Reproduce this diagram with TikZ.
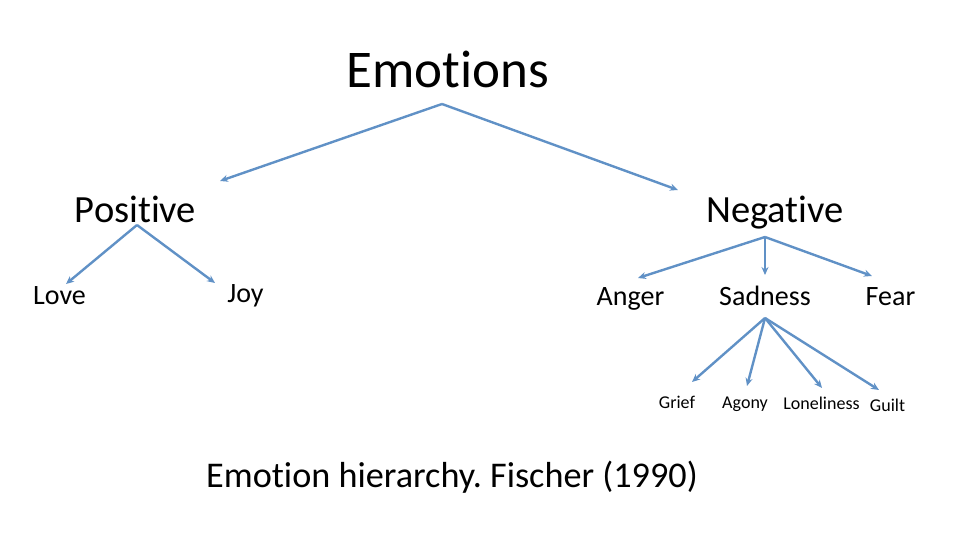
\documentclass[tikz,border=0pt]{standalone}
\usepackage{fontspec}
\setmainfont{Carlito}[Ligatures={NoCommon}]
\usetikzlibrary{arrows.meta}
\definecolor{linkblue}{RGB}{96,145,198}
\frenchspacing
\tikzset{
  lbl/.style={inner sep=0pt, anchor=base},
  link/.style={draw=linkblue, line width=2.4pt, -{Stealth[length=8pt,width=7pt]}}
}
\begin{document}
\begin{tikzpicture}[x=1pt,y=-1pt]
\useasboundingbox (0,0) rectangle (960,540);
\node[lbl, font=\fontsize{53}{60}\selectfont] (emo) at (448,88) {Emotions};
\node[lbl, font=\fontsize{38.5}{44}\selectfont] (pos) at (135.5,222) {Positive};
\node[lbl, font=\fontsize{38.5}{44}\selectfont] (neg) at (775,222) {Negative};
\node[lbl, font=\fontsize{28}{32}\selectfont] (love) at (59.5,304) {Love};
\node[lbl, font=\fontsize{28}{32}\selectfont] (joy) at (245.5,302) {Joy};
\node[lbl, font=\fontsize{28}{32}\selectfont] (anger) at (630.5,305) {Anger};
\node[lbl, font=\fontsize{28}{32}\selectfont] (sad) at (765,305) {Sadness};
\node[lbl, font=\fontsize{28}{32}\selectfont] (fear) at (890.5,305) {Fear};
\node[lbl, font=\fontsize{18}{21}\selectfont] (grief) at (677,408) {Grief};
\node[lbl, font=\fontsize{18}{21}\selectfont] (agony) at (745,408) {Agony};
\node[lbl, font=\fontsize{18}{21}\selectfont] (lonely) at (821.5,409) {Loneliness};
\node[lbl, font=\fontsize{18}{21}\selectfont] (guilt) at (887.5,411) {Guilt};
\node[lbl, font=\fontsize{36.2}{41}\selectfont] (cap) at (452,487) {Emotion hierarchy. Fischer (1990)};
% connector start and end points
\coordinate (emoS) at (442,104);
\coordinate (posE) at (220,181);
\coordinate (negE) at (678,190);
\coordinate (posS) at (137,225);
\coordinate (loveE) at (66,284);
\coordinate (joyE) at (215,283);
\coordinate (negS) at (765,237);
\coordinate (angerE) at (638,278);
\coordinate (sadE) at (765,275);
\coordinate (fearE) at (872,276);
\coordinate (sadS) at (765,318);
\coordinate (griefE) at (692,382);
\coordinate (agonyE) at (747,386);
\coordinate (lonelyE) at (822,388);
\coordinate (guiltE) at (879,390);
\draw[link] (emoS) -- (posE);
\draw[link] (emoS) -- (negE);
\draw[link] (posS) -- (loveE);
\draw[link] (posS) -- (joyE);
\draw[link] (negS) -- (angerE);
\draw[link] (negS) -- (sadE);
\draw[link] (negS) -- (fearE);
\draw[link] (sadS) -- (griefE);
\draw[link] (sadS) -- (agonyE);
\draw[link] (sadS) -- (lonelyE);
\draw[link] (sadS) -- (guiltE);
\end{tikzpicture}
\end{document}
